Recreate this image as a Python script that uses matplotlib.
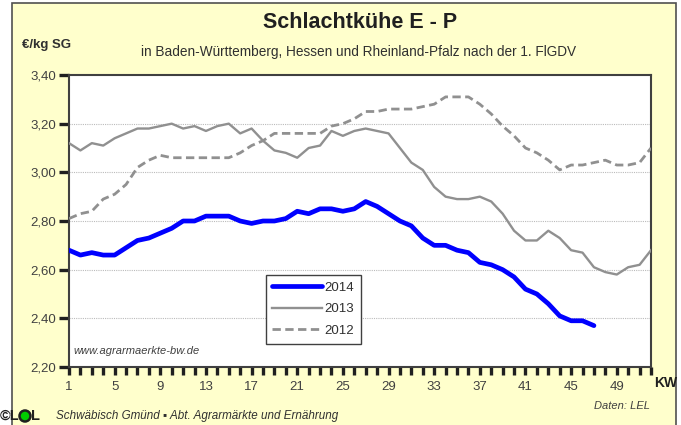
import matplotlib
matplotlib.use("Agg")
import matplotlib.pyplot as plt
from matplotlib.patches import Rectangle, Ellipse
from matplotlib.ticker import MultipleLocator, FixedLocator

plt.rcParams['font.family'] = ['Liberation Sans', 'DejaVu Sans']
# tick look set up front so every tick gets it
plt.rcParams.update({
    'xtick.direction': 'out', 'ytick.direction': 'out',
    'xtick.major.size': 6, 'xtick.minor.size': 6, 'ytick.major.size': 7,
    'xtick.major.width': 2.4, 'xtick.minor.width': 2.4, 'ytick.major.width': 2.4,
    'xtick.color': '#202020', 'ytick.color': '#202020',
    'xtick.labelcolor': '#404040', 'ytick.labelcolor': '#404040',
    'xtick.labelsize': 9.5, 'ytick.labelsize': 9.5,
    'xtick.major.pad': 4, 'ytick.major.pad': 2,
})

# weekly prices, EUR/kg SG
weeks = list(range(1, 53))
y2014 = [2.68, 2.66, 2.67, 2.66, 2.66, 2.69, 2.72, 2.73, 2.75, 2.77,
         2.80, 2.80, 2.82, 2.82, 2.82, 2.80, 2.79, 2.80, 2.80, 2.81,
         2.84, 2.83, 2.85, 2.85, 2.84, 2.85, 2.88, 2.86, 2.83, 2.80,
         2.78, 2.73, 2.70, 2.70, 2.68, 2.67, 2.63, 2.62, 2.60, 2.57,
         2.52, 2.50, 2.46, 2.41, 2.39, 2.39, 2.37]
y2013 = [3.12, 3.09, 3.12, 3.11, 3.14, 3.16, 3.18, 3.18, 3.19, 3.20,
         3.18, 3.19, 3.17, 3.19, 3.20, 3.16, 3.18, 3.13, 3.09, 3.08,
         3.06, 3.10, 3.11, 3.17, 3.15, 3.17, 3.18, 3.17, 3.16, 3.10,
         3.04, 3.01, 2.94, 2.90, 2.89, 2.89, 2.90, 2.88, 2.83, 2.76,
         2.72, 2.72, 2.76, 2.73, 2.68, 2.67, 2.61, 2.59, 2.58, 2.61,
         2.62, 2.68]
y2012 = [2.81, 2.83, 2.84, 2.89, 2.91, 2.95, 3.02, 3.05, 3.07, 3.06,
         3.06, 3.06, 3.06, 3.06, 3.06, 3.08, 3.11, 3.13, 3.16, 3.16,
         3.16, 3.16, 3.16, 3.19, 3.20, 3.22, 3.25, 3.25, 3.26, 3.26,
         3.26, 3.27, 3.28, 3.31, 3.31, 3.31, 3.28, 3.24, 3.19, 3.15,
         3.10, 3.08, 3.05, 3.01, 3.03, 3.03, 3.04, 3.05, 3.03, 3.03,
         3.04, 3.10]

xticks = [1, 5, 9, 13, 17, 21, 25, 29, 33, 37, 41, 45, 49]
yticks = [2.20, 2.40, 2.60, 2.80, 3.00, 3.20, 3.40]

W, H = 681, 425
fig = plt.figure(figsize=(W / 100, H / 100), dpi=100, facecolor='white')

# pale yellow panel: own background axes, drawn below the chart
bg = fig.add_axes([0, 0, 1, 1], zorder=-5)
bg.set_xlim(0, W)
bg.set_ylim(H, 0)
bg.axis('off')
bg.add_patch(Rectangle((12, 3), 664, H + 5, facecolor='#FFFFCC',
                       edgecolor='#505050', linewidth=1.2, clip_on=False))
bg.add_patch(Ellipse((25, 416), 11, 11, facecolor='#00CC00',
                     edgecolor='#202020', linewidth=1.8, clip_on=False))

ax = fig.add_axes([69 / W, 1 - 367 / H, (651 - 69) / W, (367 - 75) / H], zorder=1)
ax.set_facecolor('white')

ax.plot(weeks[:len(y2014)], y2014, color='#0000FF', lw=3.4, label='2014',
        solid_capstyle='round', solid_joinstyle='round', zorder=5)
ax.plot(weeks, y2013, color='#909090', lw=1.7, label='2013', zorder=4)
ax.plot(weeks, y2012, color='#909090', lw=2.0, ls=(0, (3, 1.6)), label='2012', zorder=3)

ax.set_xlim(1, 52)
ax.set_ylim(2.20, 3.40)
ax.xaxis.set_major_locator(FixedLocator(xticks))
ax.xaxis.set_minor_locator(MultipleLocator(1))
ax.set_yticks(yticks)
ax.set_yticklabels([f"{v:.2f}".replace('.', ',') for v in yticks])
ax.tick_params(axis='both', which='both', direction='out', color='#202020',
               width=2.4)
ax.tick_params(axis='x', which='both', length=6)
ax.tick_params(axis='y', which='major', length=7)

for v in yticks[1:-1]:
    ax.axhline(v, color='#BBBBBB', lw=0.8, ls=(0, (1, 1)), zorder=1)

for s in ax.spines.values():
    s.set_color('#404040')
    s.set_linewidth(1.5)

leg = ax.legend(loc='lower left', bbox_to_anchor=(0.338, 0.08), fontsize=9.5,
                handlelength=3.8, handletextpad=0.15, labelspacing=0.72,
                borderpad=0.5, borderaxespad=0, fancybox=False, framealpha=1)
leg.get_frame().set_edgecolor('#404040')
leg.get_frame().set_linewidth(1.0)
for t in leg.get_texts():
    t.set_color('#303030')

ax.text(0.008, 0.045, 'www.agrarmaerkte-bw.de', transform=ax.transAxes,
        fontsize=8, style='italic', color='#404040')

# titles and annotations
fig.text(360 / W, 1 - 23 / H, 'Schlachtkühe E - P', ha='center', va='center',
         fontsize=15.5, fontweight='bold', color='#202020')
fig.text(359 / W, 1 - 52 / H,
         'in Baden-Württemberg, Hessen und Rheinland-Pfalz nach der 1. FlGDV',
         ha='center', va='center', fontsize=9.8, color='#303030')
fig.text(22 / W, 1 - 45 / H, '€/kg SG', ha='left', va='center', fontsize=9.5,
         fontweight='bold', color='#303030')
fig.text(654 / W, 1 - 383 / H, 'KW', ha='left', va='center', fontsize=10,
         fontweight='bold', color='#202020')
fig.text(650 / W, 1 - 406 / H, 'Daten: LEL', ha='right', va='center', fontsize=8,
         style='italic', color='#404040')

# LEL logo + footer
fig.text(0 / W, 1 - 416 / H, '©L', ha='left', va='center', fontsize=10.5,
         fontweight='bold', color='#202020')
fig.text(31 / W, 1 - 416 / H, 'L', ha='left', va='center', fontsize=10.5,
         fontweight='bold', color='#202020')
fig.text(56 / W, 1 - 416 / H, 'Schwäbisch Gmünd ▪ Abt. Agrarmärkte und Ernährung',
         ha='left', va='center', fontsize=8.4, style='italic', color='#303030',
         family=['Liberation Sans', 'DejaVu Sans'])

fig.savefig('out.png', dpi=100, facecolor=fig.get_facecolor())
